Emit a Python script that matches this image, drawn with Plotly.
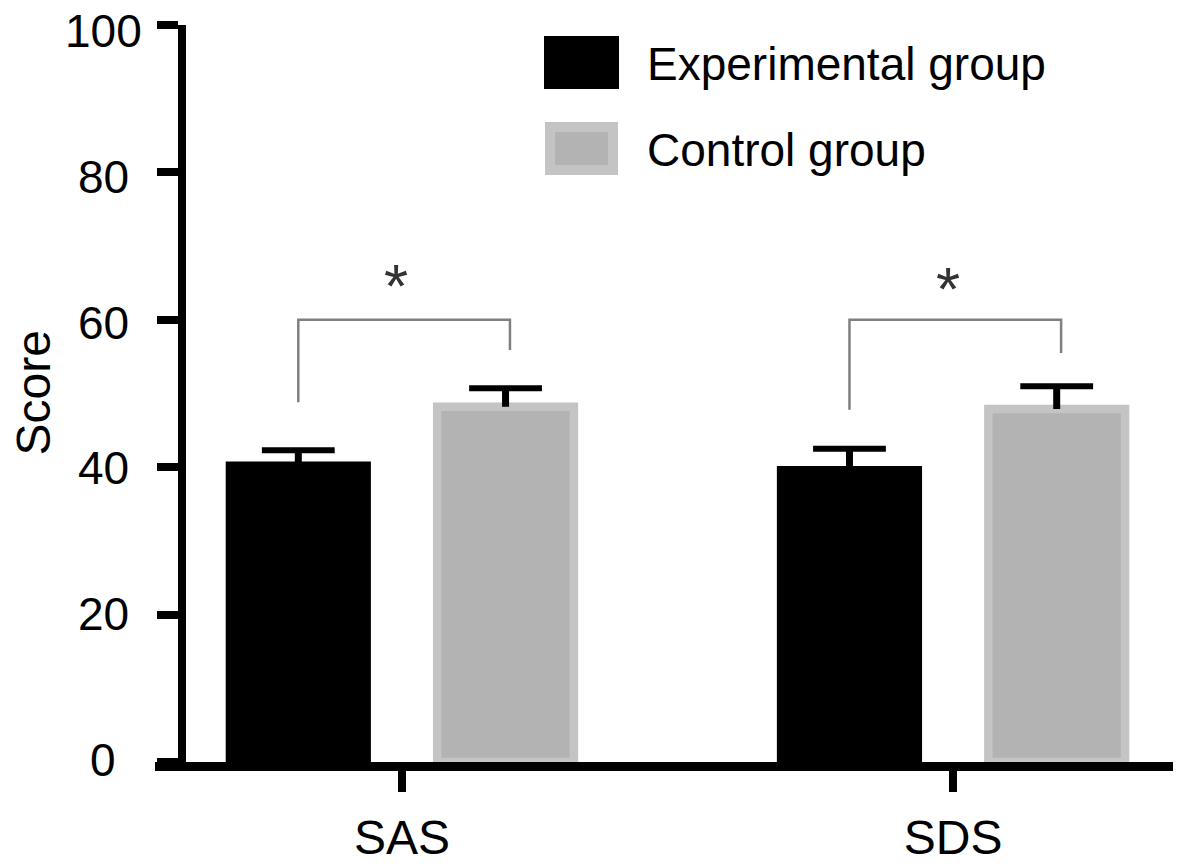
import plotly.graph_objects as go

categories = ["SAS", "SDS"]
experimental = [40.2, 39.6]
experimental_err = [2.1, 2.9]
control = [48.2, 47.9]
control_err = [2.5, 3.1]
bracket_top = [60, 60]
bracket_left = [48.8, 47.8]
bracket_right = [55.9, 55.5]
star_y = [64.6, 64.3]
y_ticks = [0, 20, 40, 60, 80, 100]
legend_names = ["Experimental group", "Control group"]

FONT = "Liberation Sans, Arial, sans-serif"
BLACK = "#000000"
GREY = "#b3b3b3"
GREY_EDGE = "#c4c4c4"
BRACKET = "#808080"

# full window, body margin removed by a post script
W, H = 1189, 867
ML, MR, MT, MB = 155, 16, 25, 105
PW, PH = W - ML - MR, H - MT - MB


def px_x(px):
    return (px - ML) / PW


def px_y(py):
    return (H - MB - py) / PH


pos = list(range(len(categories)))
shift = 0.188
bar_w = 0.248
x_exp = [p - shift for p in pos]
x_ctl = [p + shift for p in pos]

fig = go.Figure()

fig.add_trace(go.Bar(
    x=x_exp, y=experimental, width=bar_w, name=legend_names[0],
    marker=dict(color=BLACK, line=dict(color=BLACK, width=8.5)),
    error_y=dict(type="data", array=experimental_err, arrayminus=[0] * len(pos),
                 symmetric=False, width=0, thickness=7, color=BLACK),
))
fig.add_trace(go.Bar(
    x=x_ctl, y=control, width=bar_w, name=legend_names[1],
    marker=dict(color=GREY, line=dict(color=GREY_EDGE, width=8.5)),
    error_y=dict(type="data", array=control_err, arrayminus=[0] * len(pos),
                 symmetric=False, width=0, thickness=7, color=BLACK),
))

# error bar caps
cap_x = x_exp + x_ctl
cap_y = [v + e for v, e in zip(experimental, experimental_err)] + \
        [v + e for v, e in zip(control, control_err)]
fig.add_trace(go.Scatter(
    x=cap_x, y=cap_y, mode="markers", hoverinfo="skip",
    marker=dict(symbol="line-ew", size=52, line=dict(width=6, color=BLACK)),
))

# significance brackets
for i in pos:
    xr = x_ctl[i] + 0.008
    fig.add_trace(go.Scatter(
        x=[x_exp[i], x_exp[i], xr, xr],
        y=[bracket_left[i], bracket_top[i], bracket_top[i], bracket_right[i]],
        mode="lines", hoverinfo="skip",
        line=dict(color=BRACKET, width=2.5),
    ))
    fig.add_annotation(x=pos[i] - 0.01, y=star_y[i], text="*", showarrow=False,
                       xanchor="center", yanchor="middle",
                       font=dict(size=62, color="#333333", family=FONT))

# y tick labels, centred like the original
for t in y_ticks:
    fig.add_annotation(x=0, xref="paper", y=t, yref="y", xshift=-52,
                       yshift=2 - 0.08 * t,
                       text=str(t), showarrow=False, xanchor="center", yanchor="middle",
                       font=dict(size=46, color=BLACK, family=FONT))

fig.add_annotation(x=0, xref="paper", y=0.5, yref="paper", xshift=-122,
                   text="Score", textangle=-90, showarrow=False,
                   xanchor="center", yanchor="middle",
                   font=dict(size=48, color=BLACK, family=FONT))

# legend
boxes = [(545, 37, 618, 88, BLACK, BLACK, 2), (550, 127, 613, 170, GREY, GREY_EDGE, 10)]
label_y = [64, 150]
for (x0, y0, x1, y1, fill, edge, lw), name, ly in zip(boxes, legend_names, label_y):
    fig.add_shape(type="rect", xref="paper", yref="paper",
                  x0=px_x(x0), x1=px_x(x1), y0=px_y(y1), y1=px_y(y0),
                  fillcolor=fill, line=dict(color=edge, width=lw))
    fig.add_annotation(x=px_x(645), y=px_y(ly), xref="paper", yref="paper",
                       text=name, showarrow=False, xanchor="left", yanchor="middle",
                       font=dict(size=46, color=BLACK, family=FONT))

fig.update_layout(
    width=W, height=H,
    margin=dict(l=ML, r=MR, t=MT, b=MB),
    paper_bgcolor="white", plot_bgcolor="white",
    barmode="overlay",
    showlegend=False,
    font=dict(family=FONT, color=BLACK),
    xaxis=dict(
        range=[-0.448, 1.399], tickvals=pos, ticktext=categories,
        ticks="outside", ticklen=21, tickwidth=8, tickcolor=BLACK,
        showline=True, linewidth=9, linecolor=BLACK,
        showgrid=False, zeroline=False, ticklabelstandoff=4, automargin=False,
        tickfont=dict(size=48, color=BLACK, family=FONT),
    ),
    yaxis=dict(
        range=[0, 100], tickvals=y_ticks,
        anchor="free", position=px_x(182), automargin=False,
        ticks="outside", ticklen=21, tickwidth=8, tickcolor=BLACK,
        showline=True, linewidth=8, linecolor=BLACK,
        showgrid=False, zeroline=False, showticklabels=False,
    ),
)

fig.write_html("out.html", config={"displayModeBar": False},
               post_script="document.body.style.margin='0';")
